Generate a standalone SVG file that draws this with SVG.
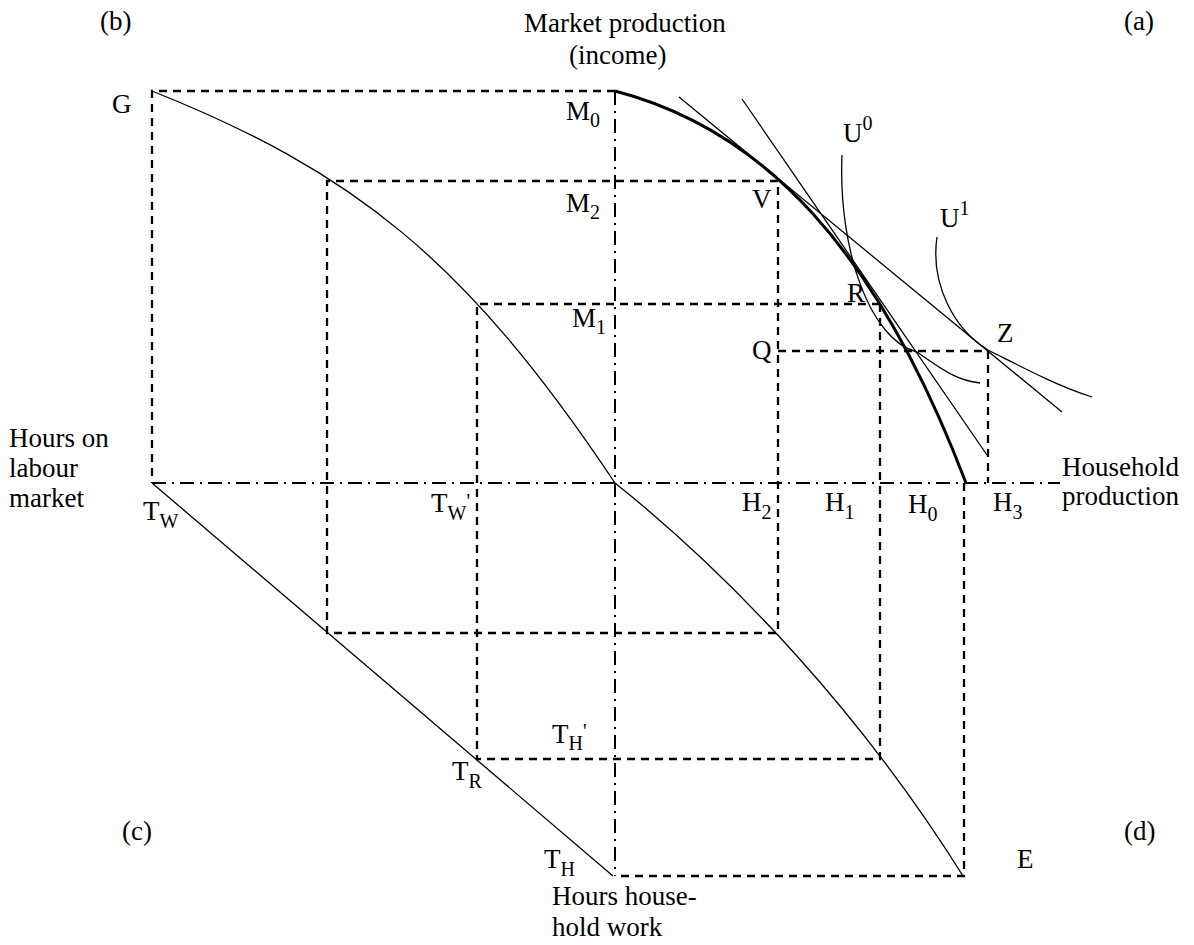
<svg xmlns="http://www.w3.org/2000/svg" width="1194" height="945" viewBox="0 0 1194 945">
<style>
text{font-family:"Liberation Serif","Times New Roman",serif;font-size:27px;fill:#000}
.s{font-size:20px}
.axis{fill:none;stroke:#000;stroke-width:2;stroke-dasharray:14,6,2,6}
.dash{fill:none;stroke:#000;stroke-width:2.3;stroke-dasharray:8,6}
.thin{fill:none;stroke:#000;stroke-width:1.3}
.bold{fill:none;stroke:#000;stroke-width:3}
</style>
<rect width="1194" height="945" fill="#fff"/>
<g id="axes">
<line class="axis" x1="152" y1="483" x2="1060" y2="483"/>
<line class="axis" x1="615" y1="91" x2="615" y2="876"/>
</g>
<g id="guides">
<polyline class="dash" points="615,91 152,91 152,483"/>
<polyline class="dash" points="778,181 327,181 327,633 778,633 778,181"/>
<polyline class="dash" points="880,304 477,304 477,759 880,759 880,304"/>
<polyline class="dash" points="778,351 988,351 988,483"/>
<polyline class="dash" points="964,483 964,876 615,876"/>
</g>
<g id="curves">
<path class="bold" d="M615,91 C765,130 877,250 966,483"/>
<path class="thin" d="M152,91 C352,171 465,258 615,483"/>
<path class="thin" d="M615,483 C735,579 863,716 963,876"/>
<line class="thin" x1="152" y1="483" x2="613" y2="876"/>
<line class="thin" x1="679" y1="97" x2="1062" y2="412"/>
<line class="thin" x1="742" y1="99" x2="987" y2="455"/>
<path class="thin" d="M842,155 C838,250 870,340 917,352 C940,368 955,380 980,383"/>
<path class="thin" d="M937,237 C930,285 955,330 988,350 C1020,366 1055,385 1092,397"/>
</g>
<g id="labels">
<text x="100" y="30">(b)</text>
<text x="1124" y="30">(a)</text>
<text x="122" y="840">(c)</text>
<text x="1124" y="840">(d)</text>
<text x="524" y="32">Market production</text>
<text x="569" y="64">(income)</text>
<text x="112" y="113">G</text>
<text x="566" y="120">M<tspan class="s" dy="7">0</tspan></text>
<text x="566" y="212">M<tspan class="s" dy="7">2</tspan></text>
<text x="572" y="327">M<tspan class="s" dy="7">1</tspan></text>
<text x="752" y="208">V</text>
<text x="847" y="302">R</text>
<text x="752" y="359">Q</text>
<text x="997" y="342">Z</text>
<text x="843" y="142">U<tspan class="s" dy="-12">0</tspan></text>
<text x="940" y="227">U<tspan class="s" dy="-12">1</tspan></text>
<text x="9" y="447">Hours on</text>
<text x="9" y="477">labour</text>
<text x="9" y="507">market</text>
<text x="1062" y="476">Household</text>
<text x="1062" y="505">production</text>
<text x="742" y="511">H<tspan class="s" dy="8">2</tspan></text>
<text x="825" y="511">H<tspan class="s" dy="8">1</tspan></text>
<text x="908" y="513">H<tspan class="s" dy="8">0</tspan></text>
<text x="993" y="511">H<tspan class="s" dy="8">3</tspan></text>
<text x="143" y="520">T<tspan class="s" dy="8">W</tspan></text>
<text x="431" y="512">T<tspan class="s" dy="8">W</tspan><tspan class="s" dy="-12">'</tspan></text>
<text x="452" y="780">T<tspan class="s" dy="8">R</tspan></text>
<text x="552" y="743">T<tspan class="s" dy="7">H</tspan><tspan class="s" dy="-12">'</tspan></text>
<text x="544" y="868">T<tspan class="s" dy="8">H</tspan></text>
<text x="1017" y="868">E</text>
<text x="552" y="905">Hours house-</text>
<text x="552" y="936">hold work</text>
</g>
</svg>
